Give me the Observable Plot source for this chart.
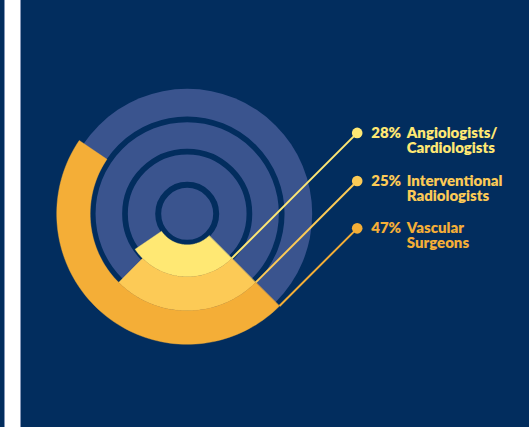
<!DOCTYPE html>
<html><head><meta charset="utf-8">
<script src="https://cdn.jsdelivr.net/npm/d3@7"></script>
<script src="https://cdn.jsdelivr.net/npm/@observablehq/plot@0.6"></script>
<style>
html,body{margin:0;padding:0;background:#fff;}
#wrap{position:relative;width:529px;height:427px;overflow:hidden;}
#strip{position:absolute;left:0;top:0;width:4px;height:427px;background:#022d5e;border-right:1px solid #8597b8;}
#panel{position:absolute;left:20px;top:0;width:509px;height:427px;background:#022d5e;border-left:1px solid #8597b8;box-sizing:border-box;}
#chart{position:absolute;left:0;top:0;}
</style></head><body>
<div id="wrap"><div id="strip"></div><div id="panel"></div><div id="chart"></div></div>
<script>
// Data
const categories = ["Angiologists/\nCardiologists", "Interventional\nRadiologists", "Vascular\nSurgeons"];
const percents = [28, 25, 47];

// Styles / layout
const colors = ["#ffe873", "#fcca56", "#f4ae37"];
const NAVY = "#022d5e", DISK = "#3a548e";
const W = 529, H = 427, CX = 186.7, CY = 213.3;
const bands = [[31, 63], [63, 97], [97, 130.5]];
const START = -45;       // math degrees (lower right)
const LABEL_X = 170;     // leader end x, relative to centre

const rad = d => d * Math.PI / 180;
const arcPts = [];
const items = percents.map((p, i) => {
  const [r0, r1] = bands[i];
  const sweep = p / 100 * 360, n = 90;
  for (let k = 0; k <= n; k++) {
    const a = rad(START - sweep * k / n);
    arcPts.push({i, x: r1 * Math.cos(a), y: r1 * Math.sin(a)});
  }
  for (let k = n; k >= 0; k--) {
    const a = rad(START - sweep * k / n);
    arcPts.push({i, x: r0 * Math.cos(a), y: r0 * Math.sin(a)});
  }
  const cx = r1 * Math.cos(rad(START)), cy = r1 * Math.sin(rad(START));
  return {i, pct: p, name: categories[i], x1: cx, y1: cy, x2: LABEL_X, y2: cy + (LABEL_X - cx)};
});

const center = [{x: 0, y: 0}];
const rings = [{r: 29, w: 6}, {r: 62.2, w: 5.7}, {r: 94.5, w: 5.7}];
const font = {fontSize: 15, fontWeight: 800, fontFamily: "Lato"};

const chart = Plot.plot({
  width: W, height: H, margin: 0,
  x: {domain: [-CX, W - CX], axis: null},
  y: {domain: [CY - H, CY], axis: null},
  color: {type: "identity"},
  style: {background: "transparent"},
  marks: [
    Plot.dot(center, {x: "x", y: "y", r: 125, fill: DISK, stroke: null}),
    ...rings.map(g => Plot.dot(center, {x: "x", y: "y", r: g.r, fill: "none", stroke: NAVY, strokeWidth: g.w})),
    Plot.line(arcPts, {x: "x", y: "y", z: "i", fill: d => colors[d.i], stroke: d => colors[d.i], strokeWidth: 0.4, curve: "linear-closed"}),
    Plot.link(items, {x1: "x1", y1: "y1", x2: "x2", y2: "y2", stroke: d => colors[d.i], strokeWidth: 2}),
    Plot.dot(items, {x: "x2", y: "y2", r: 5.3, fill: d => colors[d.i], stroke: null}),
    Plot.text(items, {x: "x2", y: "y2", text: d => d.pct + "%", dx: 14, textAnchor: "start", lineAnchor: "middle",
      fill: d => colors[d.i], ...font}),
    Plot.text(items, {x: "x2", y: "y2", text: "name", dx: 49.5, dy: 7.5, lineHeight: 1, textAnchor: "start", lineAnchor: "middle",
      fill: d => colors[d.i], ...font})
  ]
});
document.getElementById("chart").appendChild(chart);
</script>
</body></html>
